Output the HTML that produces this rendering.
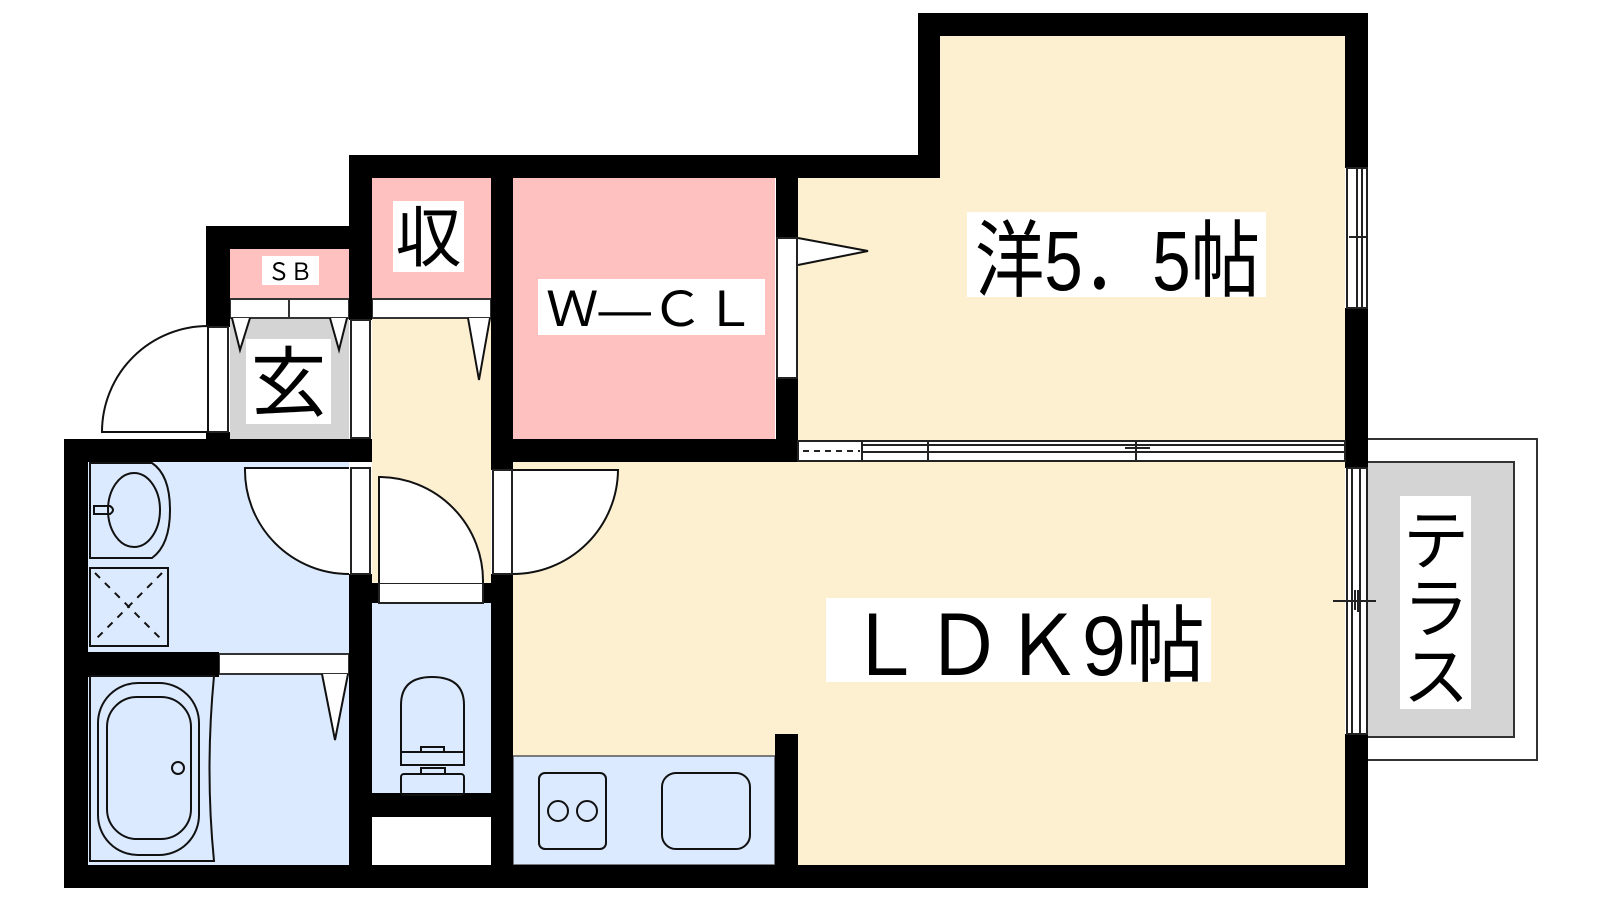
<!DOCTYPE html>
<html><head><meta charset="utf-8"><style>
html,body{margin:0;padding:0;background:#fff;}
svg{display:block;}
text{font-family:"Liberation Sans","Noto Sans CJK JP",sans-serif;fill:#000;}
</style></head><body>
<svg width="1600" height="900" viewBox="0 0 1600 900" xmlns="http://www.w3.org/2000/svg">
<!-- room fills -->
<rect x="940" y="36" width="405" height="142" fill="#fdf0d0"/>
<rect x="798" y="178" width="547" height="262" fill="#fdf0d0"/>
<rect x="513" y="462" width="832" height="403" fill="#fdf0d0"/>
<rect x="372" y="318" width="119" height="285" fill="#fdf0d0"/>
<rect x="513" y="178" width="262" height="261" fill="#ffc0c0"/>
<rect x="372" y="178" width="119" height="120" fill="#ffc0c0"/>
<rect x="230" y="249" width="119" height="49" fill="#ffc0c0"/>
<rect x="230" y="318" width="119" height="121" fill="#d4d4d4"/>
<rect x="88" y="462" width="261" height="403" fill="#dbeafe"/>
<rect x="372" y="603" width="119" height="190" fill="#dbeafe"/>
<rect x="513" y="756" width="262" height="109" fill="#dbeafe" stroke="#555" stroke-width="1.5"/>
<!-- terrace -->
<rect x="1367" y="439" width="170" height="321" fill="#fff" stroke="#333" stroke-width="2"/>
<rect x="1367" y="462" width="147" height="275" fill="#d4d4d4" stroke="#333" stroke-width="2"/>
<!-- shelves -->
<g fill="#fff" stroke="#333" stroke-width="2">
<rect x="230" y="299" width="119" height="19"/>
<line x1="289" y1="299" x2="289" y2="318"/>
<rect x="372" y="299" width="119" height="19"/>
<rect x="219" y="654" width="130" height="20"/>
<rect x="372" y="817" width="119" height="48" stroke="none"/>
</g>
<!-- walls -->
<g fill="#000">
<rect x="918" y="13" width="450" height="23"/>
<rect x="918" y="13" width="22" height="165"/>
<rect x="349" y="155" width="591" height="23"/>
<rect x="1345" y="13" width="23" height="155"/>
<rect x="1345" y="308" width="23" height="160"/>
<rect x="1345" y="734" width="23" height="154"/>
<rect x="206" y="226" width="166" height="23"/>
<rect x="206" y="226" width="24" height="101"/>
<rect x="206" y="432" width="24" height="7"/>
<rect x="349" y="155" width="23" height="165"/>
<rect x="491" y="155" width="22" height="163"/>
<rect x="491" y="318" width="22" height="0"/>
<rect x="64" y="439" width="308" height="23"/>
<rect x="64" y="439" width="24" height="449"/>
<rect x="64" y="865" width="1304" height="23"/>
<rect x="349" y="574" width="23" height="291"/>
<rect x="88" y="652" width="131" height="25"/>
<rect x="372" y="793" width="119" height="24"/>
<rect x="491" y="574" width="22" height="291"/>
<rect x="491" y="439" width="22" height="31"/>
<rect x="491" y="439" width="307" height="23"/>
<rect x="776" y="155" width="22" height="83"/>
<rect x="776" y="378" width="22" height="84"/>
<rect x="775" y="734" width="23" height="131"/>
<rect x="372" y="583" width="7" height="20"/>
<rect x="483" y="583" width="8" height="20"/>
</g>
<!-- hallway interior wall piece between 収 shelf and W-CL side -->
<rect x="491" y="318" width="22" height="121" fill="#000"/>
<!-- openings / jambs -->
<g fill="#fff" stroke="#222" stroke-width="2">
<rect x="351" y="320" width="19" height="118"/>
<rect x="208" y="327" width="20" height="105"/>
<rect x="351" y="468" width="19" height="106"/>
<rect x="493" y="470" width="19" height="104"/>
<rect x="777" y="238" width="20" height="140"/>
<rect x="379" y="583" width="104" height="20"/>
<rect x="1347" y="168" width="20" height="140"/>
<rect x="1347" y="468" width="20" height="266"/>
<rect x="798" y="441" width="547" height="20"/>
</g>
<g stroke="#222" stroke-width="2" fill="none">
<line x1="1357" y1="168" x2="1357" y2="308"/><line x1="1362" y1="168" x2="1362" y2="308"/>
<line x1="1349" y1="237" x2="1367" y2="237"/>
<line x1="1352" y1="468" x2="1352" y2="734"/><line x1="1360" y1="468" x2="1360" y2="734"/>
<line x1="1333" y1="601" x2="1376" y2="601"/><line x1="1355" y1="590" x2="1355" y2="610"/><line x1="1358" y1="590" x2="1358" y2="612"/>
<line x1="862" y1="441" x2="862" y2="461"/><line x1="928" y1="441" x2="928" y2="461"/><line x1="1136" y1="441" x2="1136" y2="461"/>
<line x1="862" y1="445" x2="1345" y2="445"/><line x1="862" y1="452" x2="1345" y2="452"/>
<line x1="1125" y1="448" x2="1150" y2="448"/>
<line x1="803" y1="451" x2="860" y2="451" stroke-dasharray="6,5"/>
</g>
<!-- doors -->
<g fill="#fff" stroke="#111" stroke-width="2">
<path d="M208 432 L102 432 A106 106 0 0 1 208 326 Z"/>
<path d="M349 468 L245 468 A104 104 0 0 0 349 574"/>
<path d="M513 470 L618 470 A105 105 0 0 1 513 574"/>
<path d="M379 583 L379 477 A104 104 0 0 1 483 583"/>
<path d="M798 238 L868 251 L798 265"/>
<path d="M232 318 L240 350 L250 318"/>
<path d="M330 318 L339 350 L347 318"/>
<path d="M468 318 L479 380 L490 318"/>
<path d="M322 674 L335 740 L348 674"/>
</g>
<!-- fixtures -->
<g fill="none" stroke="#111" stroke-width="2">
<path d="M90 463 H152 Q170 475 170 510 Q170 545 152 558 H90 Z"/>
<ellipse cx="134" cy="510" rx="26" ry="37"/>
<path d="M94 506 H110 Q116 510 110 514 H94 Z"/>
<rect x="90" y="568" width="78" height="78"/>
<g stroke-dasharray="7,7"><line x1="95" y1="573" x2="162" y2="640"/><line x1="162" y1="573" x2="95" y2="640"/></g>
<path d="M90 676 H214 Q205 770 214 861 H90 Z"/>
<rect x="98" y="683" width="101" height="172" rx="40"/>
<rect x="107" y="697" width="84" height="142" rx="30"/>
<circle cx="178" cy="768" r="6"/>
<path d="M401 752 V705 Q401 677 432 677 Q464 677 464 705 V752 Z"/>
<path d="M401 752 V765 H464 V752 H444 V747 H421 V752"/>
<rect x="421" y="768" width="24" height="6"/>
<rect x="401" y="774" width="63" height="21" rx="3"/>
<rect x="539" y="773" width="67" height="76" rx="6"/>
<circle cx="558" cy="811" r="10"/><circle cx="587" cy="811" r="10"/>
<rect x="662" y="773" width="88" height="76" rx="14"/>
</g>
<!-- labels -->
<rect x="262" y="256" width="57" height="29" fill="#fff"/>
<text x="290" y="280" font-size="24" text-anchor="middle" textLength="45" lengthAdjust="spacingAndGlyphs">ＳＢ</text>
<rect x="393" y="201" width="71" height="71" fill="#fff"/>
<text x="428.5" y="261" font-size="66" text-anchor="middle">収</text>
<rect x="246" y="339" width="85" height="85" fill="#fff"/>
<text x="288.5" y="410" font-size="76" text-anchor="middle">玄</text>
<rect x="538" y="279" width="227" height="56" fill="#fff"/>
<text x="546" y="326" font-size="48" textLength="210" lengthAdjust="spacingAndGlyphs">Ｗ―ＣＬ</text>
<rect x="967" y="212" width="299" height="85" fill="#fff"/>
<text x="975" y="290" font-size="84" textLength="285" lengthAdjust="spacingAndGlyphs">洋5．5帖</text>
<rect x="826" y="598" width="385" height="84" fill="#fff"/>
<text x="845" y="675" font-size="84" textLength="360" lengthAdjust="spacingAndGlyphs">ＬＤＫ9帖</text>
<rect x="1400" y="496" width="71" height="213" fill="#fff"/>
<text x="1436" y="564" font-size="66" text-anchor="middle">テ</text>
<text x="1436" y="632" font-size="66" text-anchor="middle">ラ</text>
<text x="1436" y="700" font-size="66" text-anchor="middle">ス</text>
</svg>
</body></html>
